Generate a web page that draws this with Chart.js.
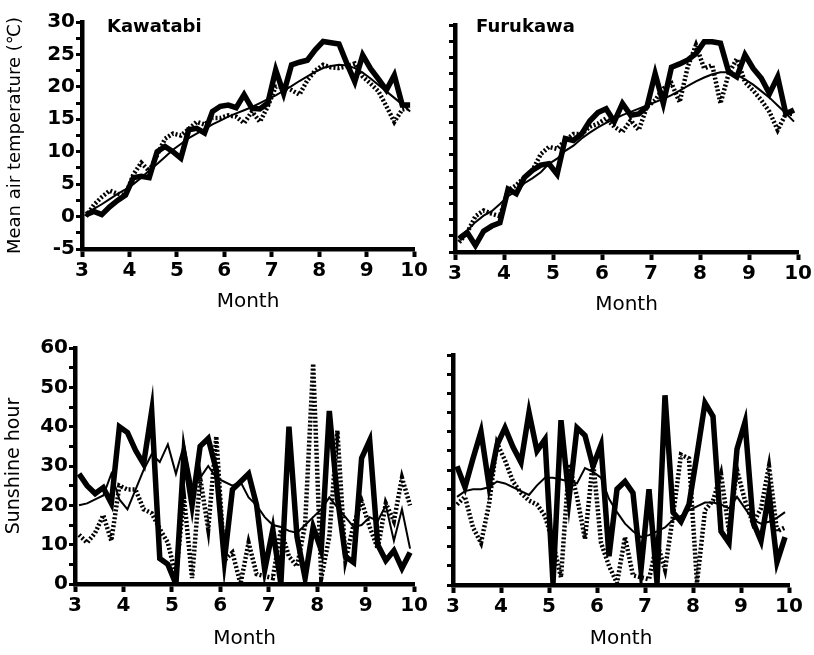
<!DOCTYPE html>
<html>
<head>
<meta charset="utf-8">
<script src="https://cdn.jsdelivr.net/npm/chart.js@4.4.1/dist/chart.umd.min.js"></script>
<style>
  html, body { margin: 0; padding: 0; background: #fff; }
  #wrap { position: relative; width: 814px; height: 655px; overflow: hidden; }
  canvas { position: absolute; display: block; }
</style>
</head>
<body>
<div id="wrap">
  <canvas id="kawaTemp" width="430" height="320" style="left:0;top:0"></canvas>
  <canvas id="furuTemp" width="384" height="320" style="left:430px;top:0"></canvas>
  <canvas id="kawaSun" width="430" height="325" style="left:0;top:330px"></canvas>
  <canvas id="furuSun" width="384" height="325" style="left:430px;top:330px"></canvas>
</div>
<script>
// Pentad (5-day) series, March to September, six pentads per month
const months = [3, 4, 5, 6, 7, 8, 9];
const pentadsPerMonth = 6;
const monthTicks = [3, 4, 5, 6, 7, 8, 9, 10];
const tempTicks = [-5, 0, 5, 10, 15, 20, 25, 30];
const sunTicks = [0, 10, 20, 30, 40, 50, 60];

// Mean air temperature (°C), Kawatabi
const kawatabiTempA = [0.3, 0.8, 0.3, 1.5, 2.5, 3.3, 6.0, 6.2, 6.0, 10.0, 10.8, 10.0, 9.0, 13.4, 13.6, 12.9, 16.2, 17.0, 17.2, 16.8, 18.8, 16.7, 16.6, 17.5, 22.6, 19.0, 23.4, 23.8, 24.1, 25.7, 27.0, 26.8, 26.6, 23.6, 20.8, 24.9, 22.8, 21.2, 19.5, 21.8, 17.2, 17.2];
const kawatabiTempB = [0.0, 1.8, 3.0, 4.0, 3.5, 3.3, 6.5, 8.3, 7.0, 9.5, 12.0, 12.8, 12.5, 13.5, 14.6, 14.2, 15.2, 15.2, 15.6, 15.4, 14.4, 16.2, 14.6, 17.0, 20.0, 20.0, 19.5, 18.8, 21.0, 22.5, 23.4, 23.0, 22.9, 23.2, 23.6, 21.6, 20.5, 19.3, 17.0, 14.6, 16.5, 16.8];
const kawatabiTempNormal = [0.5, 1.2, 1.9, 2.7, 3.5, 4.2, 5.0, 6.0, 7.1, 8.1, 9.2, 10.3, 11.2, 12.1, 12.8, 13.5, 14.2, 14.8, 15.4, 15.9, 16.4, 16.9, 17.5, 18.1, 18.7, 19.4, 20.1, 20.9, 21.6, 22.3, 22.9, 23.2, 23.4, 23.3, 22.9, 22.2, 21.3, 20.3, 19.3, 18.3, 17.3, 16.2];

// Mean air temperature (°C), Furukawa
const furukawaTempA = [-3.0, -2.0, -4.0, -1.8, -1.0, -0.5, 4.7, 4.0, 6.5, 7.6, 8.4, 8.6, 7.0, 12.5, 12.2, 13.2, 15.2, 16.5, 17.1, 15.1, 17.9, 16.1, 16.3, 17.4, 22.5, 17.9, 23.5, 24.0, 24.6, 25.6, 27.4, 27.4, 27.2, 22.8, 22.0, 25.4, 23.3, 21.8, 19.4, 22.0, 16.3, 16.9];
const furukawaTempB = [-3.5, -2.0, 0.5, 1.4, 0.9, 0.5, 4.5, 5.3, 6.5, 7.6, 10.1, 11.2, 10.9, 12.2, 13.2, 13.2, 14.3, 14.8, 15.6, 14.3, 13.5, 15.3, 13.8, 17.4, 18.4, 20.2, 21.0, 18.1, 23.6, 26.9, 23.3, 23.8, 17.9, 22.5, 24.8, 21.2, 19.9, 18.4, 16.6, 13.8, 16.3, 16.3];
const furukawaTempNormal = [-2.6, -1.7, -0.4, 0.6, 1.3, 2.4, 3.6, 4.4, 5.6, 6.4, 7.3, 8.6, 9.4, 10.6, 11.4, 12.5, 13.4, 14.2, 14.9, 15.5, 16.1, 16.6, 17.1, 17.6, 18.1, 18.6, 19.2, 19.9, 20.6, 21.3, 21.9, 22.4, 22.7, 22.7, 22.3, 21.6, 20.8, 19.8, 18.8, 17.6, 16.4, 15.1];

// Sunshine hours per pentad, Kawatabi
const kawatabiSunA = [28, 25, 23, 24.5, 20.5, 40, 38.5, 34, 30.5, 44, 6.5, 5, 0, 33, 20, 35, 37, 29, 6, 24, 26, 28, 20, 3.6, 13.8, 0, 40, 12, 1.5, 14.5, 8.6, 44, 22, 7, 5.5, 32, 36.5, 10, 6, 8.5, 4, 8];
const kawatabiSunB = [12.5, 10.5, 13, 17.5, 11, 25, 24, 24, 19, 18, 14, 10.5, 2, 22, 1.5, 27, 14, 37.5, 6, 8, 0, 10.5, 2.5, 2, 1.5, 13.8, 7, 4.5, 15, 56, 1.5, 12, 39, 6, 15, 21, 14.5, 9, 20.5, 16, 27, 20];
const kawatabiSunNormal = [20, 20.5, 21.5, 22.5, 28, 21.5, 19, 24, 29, 33, 31, 35.5, 28, 35.5, 25, 27, 30, 27, 26, 25, 26, 22, 20, 17, 15, 14.5, 13.5, 13, 15, 17, 19, 22, 19.5, 17, 14.5, 15, 17, 16, 20, 11, 19, 9];

// Sunshine hours per pentad, Furukawa
const furukawaSunA = [31, 25.5, 33, 40, 26, 36.5, 41, 36, 32, 45, 35, 38, 0.5, 43, 22.5, 41, 39, 31, 36.5, 7.5, 25, 27, 24, 4, 25, 0.5, 49.5, 19, 16.5, 21, 34, 47.5, 44, 14, 11, 35.5, 42.5, 16.5, 11.5, 24, 6, 12.5];
const furukawaSunB = [21, 23, 15, 11, 21, 37, 32.5, 27, 24, 22, 21, 18, 11, 2, 31.5, 23, 12, 32.5, 11, 5, 0.5, 12.5, 2.5, 2, 1.5, 11, 4, 18, 34, 33, 0.5, 19.5, 22, 29, 14, 30, 22, 16, 20, 31, 14, 15];
const furukawaSunNormal = [23, 24.5, 25, 25, 25.5, 27, 26.5, 25.5, 24.5, 23.5, 26, 28, 28, 27.5, 27, 26.5, 30.5, 29.5, 28, 22.5, 19, 16, 14, 12.5, 13, 14, 15, 17, 18, 19.5, 20.5, 21.5, 21.5, 21, 20, 23, 20, 17, 16, 16.5, 17.5, 19];

// Each pentad sits at its midpoint on the month axis
const pentadX = [];
months.forEach(m => {
  for (let p = 1; p <= pentadsPerMonth; p++) pentadX.push(m + (p - 0.5) / pentadsPerMonth);
});
const toPoints = values => values.map((v, i) => ({ x: pentadX[i], y: v }));

const FONT = "'DejaVu Sans', Verdana, sans-serif";
const INK = '#000';

// Station name written inside the plot area, top-left
const stationLabel = {
  id: 'stationLabel',
  afterDraw(chart, args, opts) {
    if (!opts.text) return;
    const { ctx, chartArea } = chart;
    ctx.save();
    ctx.font = `bold 18px ${FONT}`;
    ctx.fillStyle = INK;
    ctx.textBaseline = 'middle';
    ctx.textAlign = 'left';
    ctx.fillText(opts.text, chartArea.left + opts.dx, chartArea.top + opts.dy);
    ctx.restore();
  }
};

function seriesSets(a, b, normal) {
  return [
    { data: toPoints(b), borderColor: INK, borderWidth: 4.5, borderDash: [2, 2], pointRadius: 0, tension: 0, order: 3 },
    { data: toPoints(normal), borderColor: INK, borderWidth: 2, pointRadius: 0, tension: 0, order: 2 },
    { data: toPoints(a), borderColor: INK, borderWidth: 5.5, pointRadius: 0, tension: 0, order: 1 }
  ];
}

function makePanel(id, p) {
  new Chart(document.getElementById(id), {
    type: 'line',
    data: { datasets: seriesSets(p.a, p.b, p.normal) },
    options: {
      responsive: false,
      animation: false,
      events: [],
      layout: { padding: { top: p.padTop, right: p.padRight, left: 0, bottom: 0 } },
      plugins: {
        legend: { display: false },
        tooltip: { enabled: false },
        stationLabel: { text: p.station, dx: p.labelDx, dy: p.labelDy }
      },
      scales: {
        x: {
          type: 'linear',
          min: monthTicks[0],
          max: monthTicks[monthTicks.length - 1],
          afterBuildTicks: s => { s.ticks = monthTicks.map(v => ({ value: v })); },
          afterFit: s => { s.height = p.xHeight; },
          border: { display: true, color: INK, width: 4.5 },
          grid: { display: true, drawOnChartArea: false, drawTicks: true, tickLength: 8, tickWidth: 4, tickColor: INK },
          ticks: { color: INK, font: { family: FONT, size: 20, weight: 'bold' }, padding: 2, maxRotation: 0, autoSkip: false },
          title: { display: true, text: 'Month', color: INK, font: { family: FONT, size: 20 }, padding: { top: 0, bottom: p.monthPad } }
        },
        y: {
          type: 'linear',
          min: p.yTicks[0],
          max: p.yTicks[p.yTicks.length - 1],
          ticks: {
            stepSize: p.minorStep,
            color: INK,
            font: { family: FONT, size: 20, weight: 'bold' },
            padding: 1,
            autoSkip: false,
            callback: v => (p.showYLabels && p.yTicks.includes(v)) ? String(v) : ''
          },
          afterFit: s => { s.width = p.yWidth; },
          border: { display: true, color: INK, width: 4.5 },
          grid: { display: true, drawOnChartArea: false, drawTicks: true, tickLength: 6, tickWidth: 3, tickColor: INK },
          title: p.yTitle
            ? { display: true, text: p.yTitle, color: INK, font: { family: FONT, size: p.yTitleSize }, padding: { top: p.yTitlePad, bottom: 0 } }
            : { display: false }
        }
      }
    },
    plugins: [stationLabel]
  });
}

makePanel('kawaTemp', {
  a: kawatabiTempA, b: kawatabiTempB, normal: kawatabiTempNormal,
  yTicks: tempTicks, minorStep: 2.5, showYLabels: true,
  yTitle: 'Mean air temperature (℃)', yTitlePad: 5, yTitleSize: 18,
  station: 'Kawatabi', labelDx: 25, labelDy: 5,
  padTop: 22, padRight: 14, yWidth: 82, xHeight: 71, monthPad: 6
});
makePanel('furuTemp', {
  a: furukawaTempA, b: furukawaTempB, normal: furukawaTempNormal,
  yTicks: tempTicks, minorStep: 2.5, showYLabels: false,
  yTitle: null,
  station: 'Furukawa', labelDx: 21, labelDy: 2,
  padTop: 25, padRight: 12, yWidth: 25, xHeight: 68, monthPad: 3
});
makePanel('kawaSun', {
  a: kawatabiSunA, b: kawatabiSunB, normal: kawatabiSunNormal,
  yTicks: sunTicks, minorStep: 5, showYLabels: true,
  yTitle: 'Sunshine hour', yTitlePad: 3, yTitleSize: 19,
  station: null, labelDx: 0, labelDy: 0,
  padTop: 18, padRight: 15, yWidth: 75, xHeight: 71, monthPad: 4
});
makePanel('furuSun', {
  a: furukawaSunA, b: furukawaSunB, normal: furukawaSunNormal,
  yTicks: sunTicks, minorStep: 5, showYLabels: false,
  yTitle: null,
  station: null, labelDx: 0, labelDy: 0,
  padTop: 25, padRight: 25, yWidth: 23, xHeight: 70, monthPad: 4
});
</script>
</body>
</html>
